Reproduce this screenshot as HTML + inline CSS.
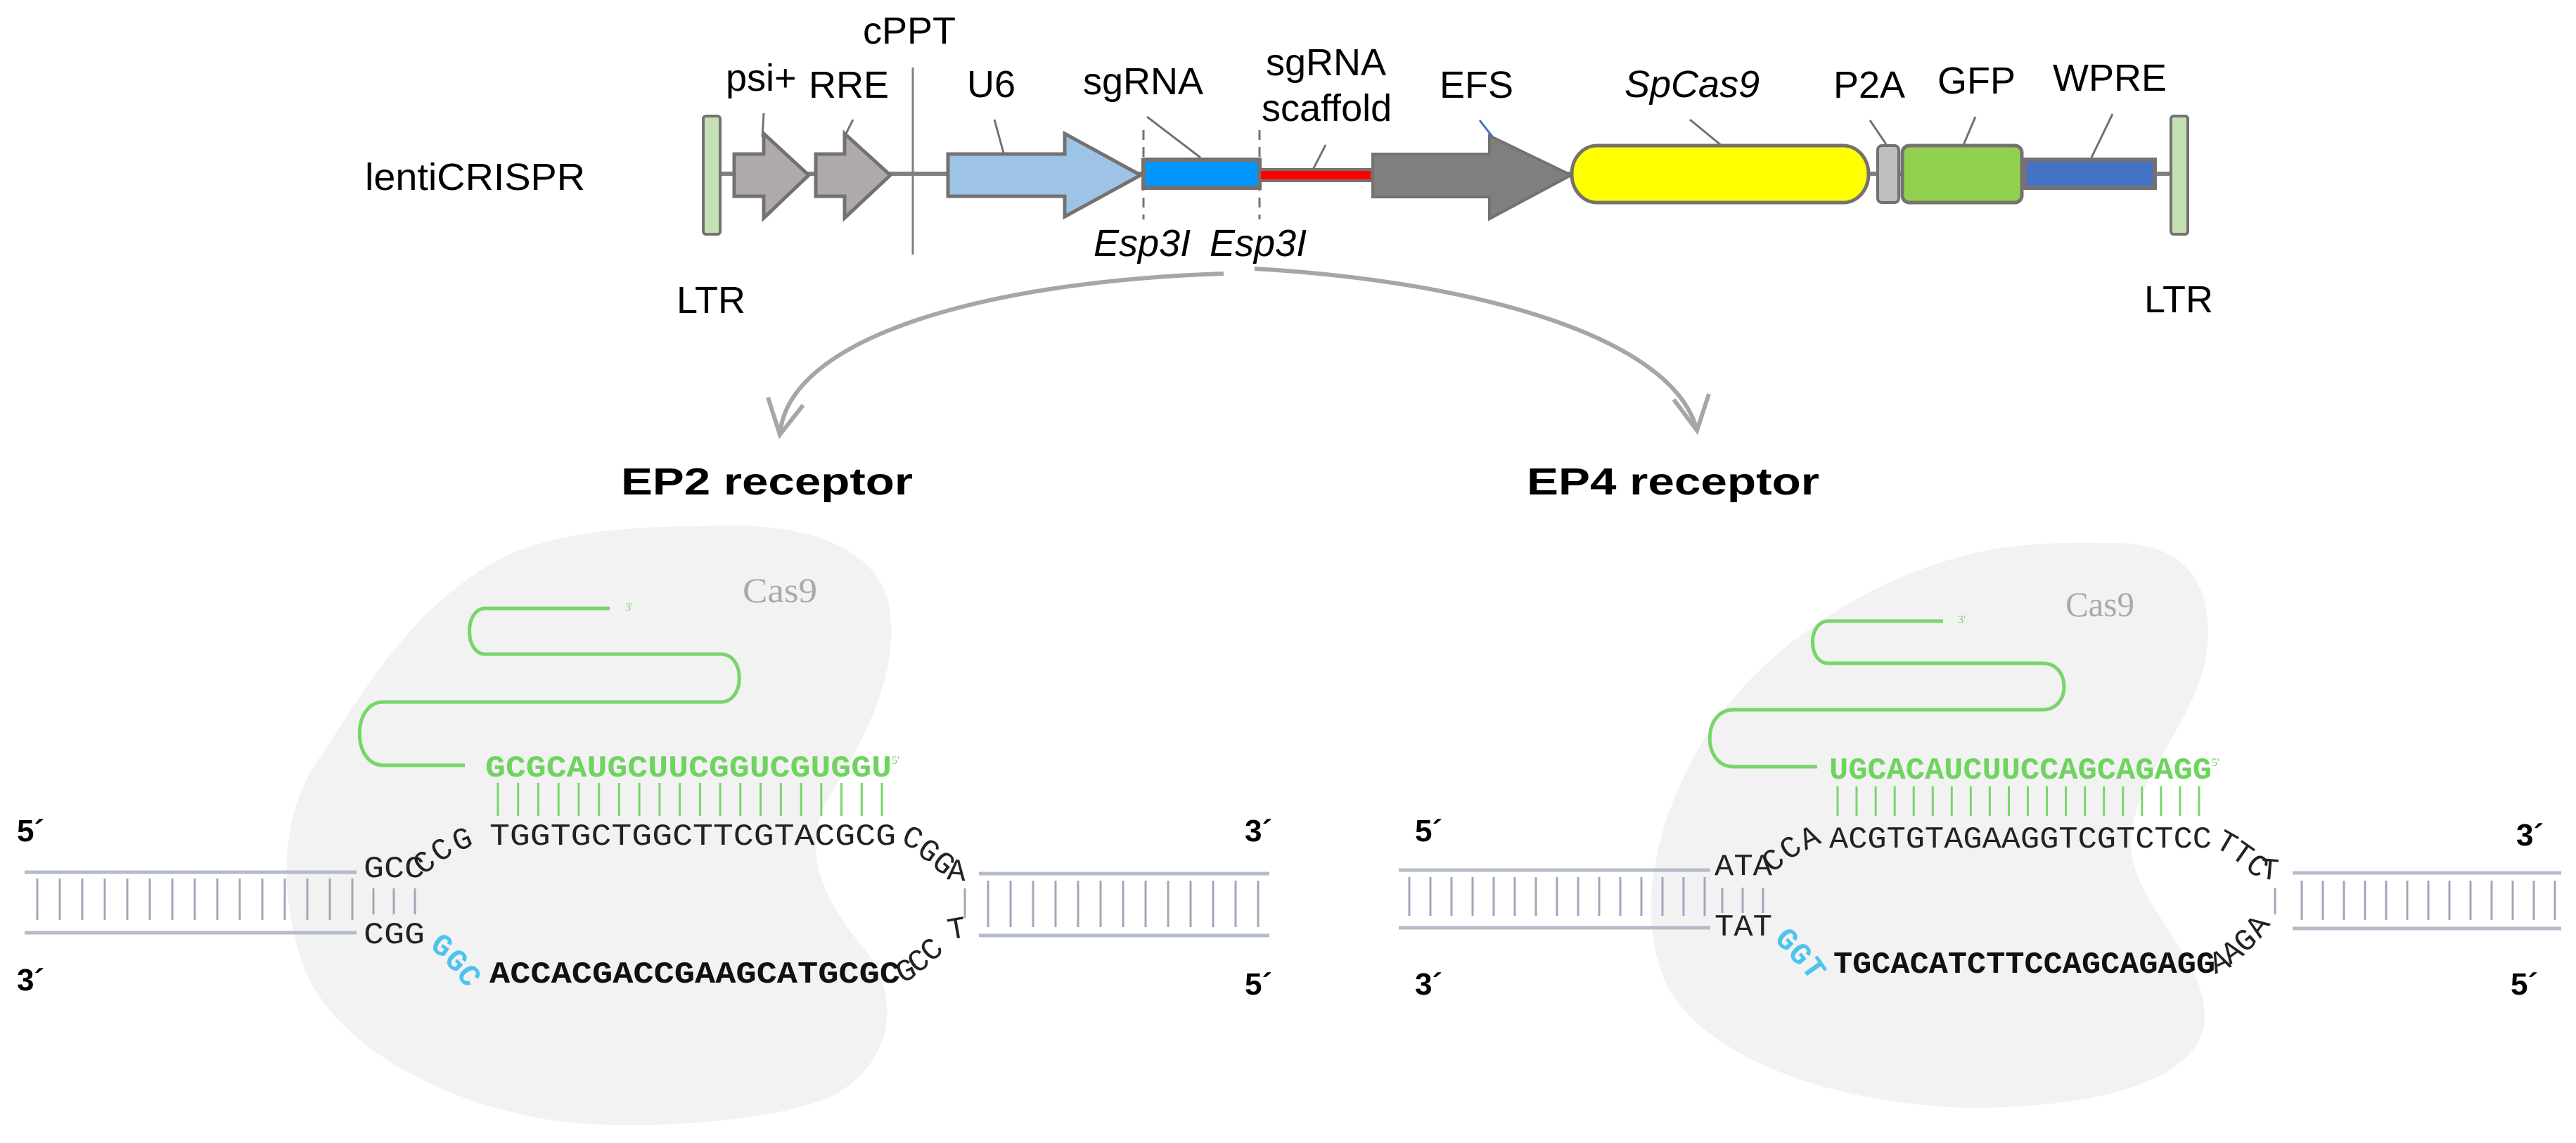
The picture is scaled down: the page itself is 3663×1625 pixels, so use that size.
<!DOCTYPE html>
<html><head><meta charset="utf-8"><style>
html,body{margin:0;padding:0;background:#fff;}
svg{display:block;}
.a{font-family:"Liberation Sans",Arial,sans-serif;font-size:54px;fill:#000;}
.m{font-family:"Liberation Mono",monospace;font-size:44px;}
</style></head><body>
<svg width="3663" height="1625" viewBox="0 0 3663 1625" xmlns="http://www.w3.org/2000/svg">
<rect width="3663" height="1625" fill="#fff"/>
<!-- ===== vector map ===== -->
<text class="a" x="519" y="270" textLength="313" lengthAdjust="spacingAndGlyphs" font-size="58">lentiCRISPR</text>
<line x1="1010" y1="247" x2="3100" y2="247" stroke="#7f7f7f" stroke-width="6"/>
<line x1="1298" y1="96" x2="1298" y2="362" stroke="#7f7f7f" stroke-width="3"/>
<text class="a" x="1227" y="62">cPPT</text>
<polygon points="1044,219 1086,219 1086,190 1150,249 1086,310 1086,279 1044,279" fill="#aeaaaa" stroke="#757171" stroke-width="5"/>
<polygon points="1160,219 1201,219 1201,190 1266,249 1201,310 1201,279 1160,279" fill="#aeaaaa" stroke="#757171" stroke-width="5"/>
<line x1="1086" y1="161" x2="1084" y2="195" stroke="#757171" stroke-width="3"/>
<line x1="1213" y1="170" x2="1201" y2="194" stroke="#757171" stroke-width="3"/>
<text class="a" x="1032" y="129">psi+</text>
<text class="a" x="1150" y="139">RRE</text>
<rect x="1000" y="165" width="24" height="168" rx="4" fill="#c5e0b4" stroke="#757171" stroke-width="4"/>
<rect x="3087" y="165" width="24" height="168" rx="4" fill="#c5e0b4" stroke="#757171" stroke-width="4"/>
<text class="a" x="962" y="445">LTR</text>
<text class="a" x="3049" y="444">LTR</text>
<polygon points="1348,219 1514,219 1514,190 1622,249 1514,308 1514,279 1348,279" fill="#9dc3e6" stroke="#757171" stroke-width="5"/>
<line x1="1414" y1="170" x2="1428" y2="221" stroke="#757171" stroke-width="3"/>
<text class="a" x="1375" y="138">U6</text>
<rect x="1626" y="227" width="165" height="40" fill="#0096ff" stroke="#757171" stroke-width="6"/>
<line x1="1631" y1="166" x2="1707" y2="224" stroke="#757171" stroke-width="3"/>
<text class="a" x="1540" y="134">sgRNA</text>
<line x1="1626" y1="185" x2="1626" y2="312" stroke="#757171" stroke-width="3" stroke-dasharray="14,10"/>
<line x1="1791" y1="185" x2="1791" y2="312" stroke="#757171" stroke-width="3" stroke-dasharray="14,10"/>
<text class="a" x="1555" y="364" font-style="italic">Esp3I</text>
<text class="a" x="1720" y="364" font-style="italic">Esp3I</text>
<rect x="1791" y="241" width="160" height="16" fill="#ff0000" stroke="#757171" stroke-width="4"/>
<line x1="1885" y1="206" x2="1867" y2="241" stroke="#757171" stroke-width="3"/>
<text class="a" x="1800" y="107">sgRNA</text>
<text class="a" x="1794" y="172">scaffold</text>
<polygon points="1952,219 2118,219 2118,193 2234,249 2118,311 2118,280 1952,280" fill="#7f7f7f" stroke="#757171" stroke-width="4"/>
<line x1="2104" y1="171" x2="2122" y2="194" stroke="#4472c4" stroke-width="3"/>
<text class="a" x="2047" y="139">EFS</text>
<rect x="2235" y="207" width="422" height="81" rx="36" ry="40" fill="#ffff00" stroke="#757171" stroke-width="5"/>
<line x1="2403" y1="170" x2="2448" y2="207" stroke="#757171" stroke-width="3"/>
<text class="a" x="2310" y="138" font-style="italic">SpCas9</text>
<rect x="2670" y="207" width="30" height="81" rx="6" fill="#bfbfbf" stroke="#757171" stroke-width="4"/>
<line x1="2659" y1="171" x2="2682" y2="205" stroke="#757171" stroke-width="3"/>
<text class="a" x="2607" y="139">P2A</text>
<rect x="2705" y="207" width="170" height="81" rx="10" fill="#92d050" stroke="#757171" stroke-width="5"/>
<line x1="2809" y1="166" x2="2792" y2="206" stroke="#757171" stroke-width="3"/>
<text class="a" x="2755" y="133">GFP</text>
<rect x="2879" y="227" width="185" height="40" fill="#4472c4" stroke="#757171" stroke-width="6"/>
<line x1="3004" y1="162" x2="2974" y2="224" stroke="#757171" stroke-width="3"/>
<text class="a" x="2919" y="129">WPRE</text>
<g fill="none" stroke="#a6a6a6" stroke-width="6">
<path d="M1740,389 C1400,400 1120,480 1109,618"/>
<path d="M1092,565 L1109,618 L1142,576"/>
<path d="M1784,382 C2100,400 2380,480 2413,612"/>
<path d="M2380,568 L2413,612 L2430,560"/>
</g>
<text class="a" x="883" y="703" font-size="80" font-weight="bold" textLength="415" lengthAdjust="spacingAndGlyphs">EP2 receptor</text>
<text class="a" x="2171" y="703" font-size="80" font-weight="bold" textLength="416" lengthAdjust="spacingAndGlyphs">EP4 receptor</text>

<!-- ===== EP2 ===== -->
<path d="M1000,748 C1150,740 1240,780 1262,850 C1285,950 1230,1050 1175,1140 C1140,1210 1170,1280 1230,1350 C1290,1430 1260,1520 1180,1560 C1080,1600 900,1605 800,1595 C620,1570 470,1480 430,1370 C390,1250 405,1140 460,1070 C530,960 600,850 720,790 C800,755 900,748 1000,748 Z" fill="#f2f2f2"/>
<text x="1056" y="856" font-family="Liberation Serif,serif" font-size="50" fill="#aaa" textLength="106" lengthAdjust="spacingAndGlyphs">Cas9</text>
<path d="M867,865 L690,865 C660,865 660,930 690,930 L1025,930 C1060,930 1060,998 1025,998 L545,998 C500,998 500,1088 545,1088 L661,1088" fill="none" stroke="#77d56a" stroke-width="5"/>
<text x="889" y="868" font-family="Liberation Serif,serif" font-size="16" fill="#77d56a">3'</text>
<text class="m" x="690" y="1104" textLength="578" lengthAdjust="spacingAndGlyphs" font-weight="bold" fill="#6fd35f">GCGCAUGCUUCGGUCGUGGU</text>
<text x="1268" y="1086" font-family="Liberation Serif,serif" font-size="16" fill="#6fd35f">5'</text>
<g stroke="#77d56a" stroke-width="3">
<line x1="708" y1="1113" x2="708" y2="1160"/><line x1="736.7" y1="1113" x2="736.7" y2="1160"/><line x1="765.4" y1="1113" x2="765.4" y2="1160"/><line x1="794.2" y1="1113" x2="794.2" y2="1160"/><line x1="822.9" y1="1113" x2="822.9" y2="1160"/><line x1="851.7" y1="1113" x2="851.7" y2="1160"/><line x1="880.4" y1="1113" x2="880.4" y2="1160"/><line x1="909.1" y1="1113" x2="909.1" y2="1160"/><line x1="937.9" y1="1113" x2="937.9" y2="1160"/><line x1="966.6" y1="1113" x2="966.6" y2="1160"/><line x1="995.4" y1="1113" x2="995.4" y2="1160"/><line x1="1024.1" y1="1113" x2="1024.1" y2="1160"/><line x1="1052.8" y1="1113" x2="1052.8" y2="1160"/><line x1="1081.6" y1="1113" x2="1081.6" y2="1160"/><line x1="1110.3" y1="1113" x2="1110.3" y2="1160"/><line x1="1139.1" y1="1113" x2="1139.1" y2="1160"/><line x1="1167.8" y1="1113" x2="1167.8" y2="1160"/><line x1="1196.5" y1="1113" x2="1196.5" y2="1160"/><line x1="1225.3" y1="1113" x2="1225.3" y2="1160"/><line x1="1254" y1="1113" x2="1254" y2="1160"/>
</g>
<g stroke="#b4bccb" stroke-width="5"><line x1="35" y1="1240" x2="507" y2="1240"/><line x1="35" y1="1326" x2="507" y2="1326"/>
<line x1="1392" y1="1242" x2="1805" y2="1242"/><line x1="1392" y1="1330" x2="1805" y2="1330"/></g>
<g stroke="#a0a8b8" stroke-width="3">
<line x1="53" y1="1249" x2="53" y2="1308"/><line x1="85" y1="1249" x2="85" y2="1308"/><line x1="117" y1="1249" x2="117" y2="1308"/><line x1="149" y1="1249" x2="149" y2="1308"/><line x1="181" y1="1249" x2="181" y2="1308"/><line x1="213" y1="1249" x2="213" y2="1308"/><line x1="245" y1="1249" x2="245" y2="1308"/><line x1="277" y1="1249" x2="277" y2="1308"/><line x1="309" y1="1249" x2="309" y2="1308"/><line x1="341" y1="1249" x2="341" y2="1308"/><line x1="373" y1="1249" x2="373" y2="1308"/><line x1="405" y1="1249" x2="405" y2="1308"/><line x1="437" y1="1249" x2="437" y2="1308"/><line x1="469" y1="1249" x2="469" y2="1308"/><line x1="501" y1="1249" x2="501" y2="1308"/>
<line x1="531" y1="1263" x2="531" y2="1300"/><line x1="560" y1="1263" x2="560" y2="1300"/><line x1="590" y1="1263" x2="590" y2="1300"/>
<line x1="1372" y1="1263" x2="1372" y2="1305"/>
<line x1="1405" y1="1252" x2="1405" y2="1318"/><line x1="1437" y1="1252" x2="1437" y2="1318"/><line x1="1469" y1="1252" x2="1469" y2="1318"/><line x1="1501" y1="1252" x2="1501" y2="1318"/><line x1="1533" y1="1252" x2="1533" y2="1318"/><line x1="1565" y1="1252" x2="1565" y2="1318"/><line x1="1597" y1="1252" x2="1597" y2="1318"/><line x1="1629" y1="1252" x2="1629" y2="1318"/><line x1="1661" y1="1252" x2="1661" y2="1318"/><line x1="1693" y1="1252" x2="1693" y2="1318"/><line x1="1725" y1="1252" x2="1725" y2="1318"/><line x1="1757" y1="1252" x2="1757" y2="1318"/><line x1="1789" y1="1252" x2="1789" y2="1318"/>
</g>
<g fill="#222">
<text class="m" x="517" y="1247" textLength="87" lengthAdjust="spacingAndGlyphs">GCC</text>
<text class="m" transform="translate(602,1245) rotate(-40)">C</text>
<text class="m" transform="translate(625,1227) rotate(-35)">C</text>
<text class="m" transform="translate(650,1211) rotate(-22)">G</text>
<text class="m" x="696" y="1201" textLength="578" lengthAdjust="spacingAndGlyphs">TGGTGCTGGCTTCGTACGCG</text>
<text class="m" transform="translate(1280,1198) rotate(25)">C</text>
<text class="m" transform="translate(1302,1213) rotate(35)">G</text>
<text class="m" transform="translate(1323,1229) rotate(40)">G</text>
<text class="m" transform="translate(1346,1250) rotate(5)">A</text>
<text class="m" x="517" y="1341" textLength="87" lengthAdjust="spacingAndGlyphs">CGG</text>
<text class="m" transform="translate(1282,1398) rotate(-25)">G</text>
<text class="m" transform="translate(1303,1385) rotate(-35)">C</text>
<text class="m" transform="translate(1324,1369) rotate(-42)">C</text>
<text class="m" transform="translate(1350,1336) rotate(-10)">T</text>
</g>
<g fill="#4fc3ee" font-weight="bold">
<text class="m" transform="translate(610,1348) rotate(35)">G</text>
<text class="m" transform="translate(630,1366) rotate(45)">G</text>
<text class="m" transform="translate(648,1384) rotate(55)">C</text>
</g>
<text class="m" x="696" y="1397" textLength="584" lengthAdjust="spacingAndGlyphs" font-weight="bold" fill="#111">ACCACGACCGAAGCATGCGC</text>
<g font-family="Liberation Sans,Arial,sans-serif" font-weight="bold" font-size="44" fill="#000">
<text x="24" y="1196">5´</text><text x="1770" y="1196">3´</text>
<text x="24" y="1408">3´</text><text x="1770" y="1414">5´</text>
</g>

<!-- ===== EP4 ===== -->
<path d="M3000,772 C3100,770 3140,820 3140,900 C3140,1010 3040,1090 3030,1190 C3025,1280 3130,1350 3135,1440 C3140,1530 3000,1575 2800,1575 C2600,1570 2420,1500 2370,1400 C2320,1290 2360,1150 2430,1040 C2520,900 2700,800 2850,778 C2920,770 2960,772 3000,772 Z" fill="#f2f2f2"/>
<text x="2937" y="876" font-family="Liberation Serif,serif" font-size="50" fill="#aaa" textLength="98" lengthAdjust="spacingAndGlyphs">Cas9</text>
<path d="M2763,883 L2600,883 C2570,883 2570,943 2600,943 L2905,943 C2945,943 2945,1009 2905,1009 L2465,1009 C2420,1009 2420,1090 2465,1090 L2584,1090" fill="none" stroke="#77d56a" stroke-width="5"/>
<text x="2784" y="886" font-family="Liberation Serif,serif" font-size="16" fill="#77d56a">3'</text>
<text class="m" x="2601" y="1107" textLength="544" lengthAdjust="spacingAndGlyphs" font-weight="bold" fill="#6fd35f">UGCACAUCUUCCAGCAGAGG</text>
<text x="3145" y="1089" font-family="Liberation Serif,serif" font-size="16" fill="#6fd35f">5'</text>
<g stroke="#77d56a" stroke-width="3">
<line x1="2613" y1="1118" x2="2613" y2="1160"/><line x1="2640" y1="1118" x2="2640" y2="1160"/><line x1="2667.1" y1="1118" x2="2667.1" y2="1160"/><line x1="2694.2" y1="1118" x2="2694.2" y2="1160"/><line x1="2721.2" y1="1118" x2="2721.2" y2="1160"/><line x1="2748.3" y1="1118" x2="2748.3" y2="1160"/><line x1="2775.3" y1="1118" x2="2775.3" y2="1160"/><line x1="2802.4" y1="1118" x2="2802.4" y2="1160"/><line x1="2829.4" y1="1118" x2="2829.4" y2="1160"/><line x1="2856.5" y1="1118" x2="2856.5" y2="1160"/><line x1="2883.5" y1="1118" x2="2883.5" y2="1160"/><line x1="2910.6" y1="1118" x2="2910.6" y2="1160"/><line x1="2937.6" y1="1118" x2="2937.6" y2="1160"/><line x1="2964.7" y1="1118" x2="2964.7" y2="1160"/><line x1="2991.7" y1="1118" x2="2991.7" y2="1160"/><line x1="3018.8" y1="1118" x2="3018.8" y2="1160"/><line x1="3045.8" y1="1118" x2="3045.8" y2="1160"/><line x1="3072.9" y1="1118" x2="3072.9" y2="1160"/><line x1="3099.9" y1="1118" x2="3099.9" y2="1160"/><line x1="3127" y1="1118" x2="3127" y2="1160"/>
</g>
<g stroke="#b4bccb" stroke-width="5"><line x1="1989" y1="1237" x2="2432" y2="1237"/><line x1="1989" y1="1319" x2="2432" y2="1319"/>
<line x1="3260" y1="1241" x2="3642" y2="1241"/><line x1="3260" y1="1320" x2="3642" y2="1320"/></g>
<g stroke="#a0a8b8" stroke-width="3">
<line x1="2004" y1="1247" x2="2004" y2="1302"/><line x1="2034" y1="1247" x2="2034" y2="1302"/><line x1="2064" y1="1247" x2="2064" y2="1302"/><line x1="2094" y1="1247" x2="2094" y2="1302"/><line x1="2124" y1="1247" x2="2124" y2="1302"/><line x1="2154" y1="1247" x2="2154" y2="1302"/><line x1="2184" y1="1247" x2="2184" y2="1302"/><line x1="2214" y1="1247" x2="2214" y2="1302"/><line x1="2244" y1="1247" x2="2244" y2="1302"/><line x1="2274" y1="1247" x2="2274" y2="1302"/><line x1="2304" y1="1247" x2="2304" y2="1302"/><line x1="2334" y1="1247" x2="2334" y2="1302"/><line x1="2364" y1="1247" x2="2364" y2="1302"/><line x1="2394" y1="1247" x2="2394" y2="1302"/><line x1="2424" y1="1247" x2="2424" y2="1302"/>
<line x1="2449" y1="1262" x2="2449" y2="1298"/><line x1="2478" y1="1262" x2="2478" y2="1298"/><line x1="2507" y1="1262" x2="2507" y2="1298"/>
<line x1="3235" y1="1262" x2="3235" y2="1300"/>
<line x1="3273" y1="1252" x2="3273" y2="1308"/><line x1="3303" y1="1252" x2="3303" y2="1308"/><line x1="3333" y1="1252" x2="3333" y2="1308"/><line x1="3363" y1="1252" x2="3363" y2="1308"/><line x1="3393" y1="1252" x2="3393" y2="1308"/><line x1="3423" y1="1252" x2="3423" y2="1308"/><line x1="3453" y1="1252" x2="3453" y2="1308"/><line x1="3483" y1="1252" x2="3483" y2="1308"/><line x1="3513" y1="1252" x2="3513" y2="1308"/><line x1="3543" y1="1252" x2="3543" y2="1308"/><line x1="3573" y1="1252" x2="3573" y2="1308"/><line x1="3603" y1="1252" x2="3603" y2="1308"/><line x1="3633" y1="1252" x2="3633" y2="1308"/>
</g>
<g fill="#222">
<text class="m" x="2438" y="1244" textLength="82" lengthAdjust="spacingAndGlyphs">ATA</text>
<text class="m" transform="translate(2520,1242) rotate(-40)">C</text>
<text class="m" transform="translate(2543,1224) rotate(-35)">C</text>
<text class="m" transform="translate(2567,1209) rotate(-25)">A</text>
<text class="m" x="2601" y="1205" textLength="544" lengthAdjust="spacingAndGlyphs">ACGTGTAGAAGGTCGTCTCC</text>
<text class="m" transform="translate(3148,1203) rotate(30)">T</text>
<text class="m" transform="translate(3170,1217) rotate(35)">T</text>
<text class="m" transform="translate(3191,1233) rotate(40)">C</text>
<text class="m" transform="translate(3213,1249) rotate(5)">T</text>
<text class="m" x="2438" y="1330" textLength="82" lengthAdjust="spacingAndGlyphs">TAT</text>
<text class="m" transform="translate(3150,1385) rotate(-25)">A</text>
<text class="m" transform="translate(3171,1372) rotate(-35)">A</text>
<text class="m" transform="translate(3192,1356) rotate(-42)">G</text>
<text class="m" transform="translate(3214,1335) rotate(-55)">A</text>
</g>
<g fill="#4fc3ee" font-weight="bold">
<text class="m" transform="translate(2522,1336) rotate(45)">G</text>
<text class="m" transform="translate(2541,1355) rotate(50)">G</text>
<text class="m" transform="translate(2560,1374) rotate(55)">T</text>
</g>
<text class="m" x="2607" y="1383" textLength="543" lengthAdjust="spacingAndGlyphs" font-weight="bold" fill="#111">TGCACATCTTCCAGCAGAGG</text>
<g font-family="Liberation Sans,Arial,sans-serif" font-weight="bold" font-size="44" fill="#000">
<text x="2012" y="1196">5´</text><text x="3578" y="1202">3´</text>
<text x="2012" y="1414">3´</text><text x="3570" y="1414">5´</text>
</g>
</svg>
</body></html>
